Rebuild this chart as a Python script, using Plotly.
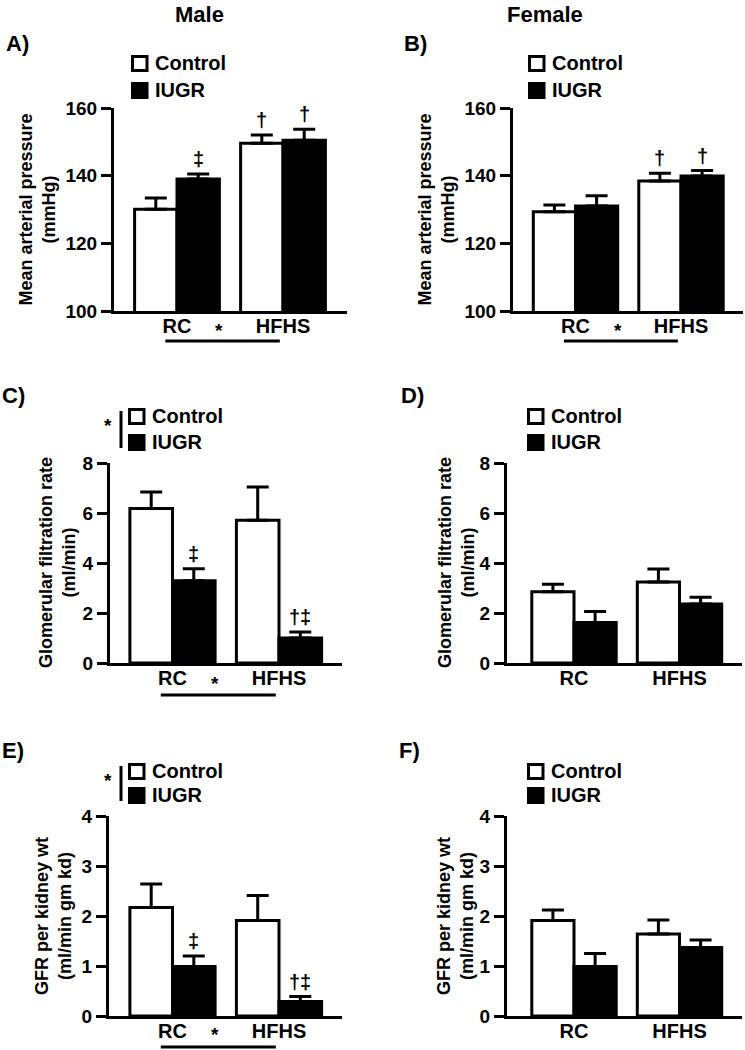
import plotly.graph_objects as go

# ---------------- data ----------------
groups = ["RC", "HFHS"]

# Panel A: Male, mean arterial pressure (mmHg)
a_control = [130.1, 149.6]
a_control_err = [3.3, 2.4]
a_iugr = [139.0, 150.5]
a_iugr_err = [1.5, 3.2]
a_control_marks = ["", "†"]
a_iugr_marks = ["‡", "†"]

# Panel B: Female, mean arterial pressure (mmHg)
b_control = [129.3, 138.4]
b_control_err = [2.0, 2.3]
b_iugr = [131.0, 139.9]
b_iugr_err = [3.1, 1.6]
b_control_marks = ["", "†"]
b_iugr_marks = ["", "†"]

# Panel C: Male, GFR (ml/min)
c_control = [6.18, 5.71]
c_control_err = [0.66, 1.33]
c_iugr = [3.29, 1.00]
c_iugr_err = [0.48, 0.24]
c_control_marks = ["", ""]
c_iugr_marks = ["‡", "†‡"]

# Panel D: Female, GFR (ml/min)
d_control = [2.85, 3.24]
d_control_err = [0.30, 0.52]
d_iugr = [1.62, 2.36]
d_iugr_err = [0.44, 0.27]
d_control_marks = ["", ""]
d_iugr_marks = ["", ""]

# Panel E: Male, GFR per kidney wt
e_control = [2.17, 1.91]
e_control_err = [0.47, 0.50]
e_iugr = [0.99, 0.29]
e_iugr_err = [0.21, 0.10]
e_control_marks = ["", ""]
e_iugr_marks = ["‡", "†‡"]

# Panel F: Female, GFR per kidney wt
f_control = [1.91, 1.64]
f_control_err = [0.21, 0.28]
f_iugr = [0.99, 1.37]
f_iugr_err = [0.26, 0.15]
f_control_marks = ["", ""]
f_iugr_marks = ["", ""]

bp_ticks = [100, 120, 140, 160]
gfr_ticks = [0, 2, 4, 6, 8]
gfrkw_ticks = [0, 1, 2, 3, 4]

# ---------------- layout helpers ----------------
W, H = 745, 1050
FONT = "Arial, 'Liberation Sans', sans-serif"


def px(xp):
    return xp / W


def py(yp):
    return 1 - yp / H


def fnt(size):
    return dict(family=FONT, size=size, color="black", weight="bold")


# pull the category labels a little closer to the axis line, if supported
try:
    go.layout.XAxis(ticklabelstandoff=-5)
    XLABEL_SHIFT = {"ticklabelstandoff": -5}
except Exception:
    XLABEL_SHIFT = {}

panels = [
    dict(letter="A)", ctrl=a_control, ce=a_control_err, iugr=a_iugr, ie=a_iugr_err,
         cm=a_control_marks, im=a_iugr_marks, ticks=bp_ticks,
         title="Mean arterial pressure<br>(mmHg)",
         xpx=(114, 347), ypx=(108, 311), c0=177, sp=106, title_x=37,
         letter_pos=(4, 43), legend=(131, 55, 82), legend_star=False,
         interaction=True, label_y=330, line_y=341),
    dict(letter="B)", ctrl=b_control, ce=b_control_err, iugr=b_iugr, ie=b_iugr_err,
         cm=b_control_marks, im=b_iugr_marks, ticks=bp_ticks,
         title="Mean arterial pressure<br>(mmHg)",
         xpx=(513, 743), ypx=(108, 311), c0=575.5, sp=105.5, title_x=436,
         letter_pos=(402, 43), legend=(528, 55, 82), legend_star=False,
         interaction=True, label_y=330, line_y=341),
    dict(letter="C)", ctrl=c_control, ce=c_control_err, iugr=c_iugr, ie=c_iugr_err,
         cm=c_control_marks, im=c_iugr_marks, ticks=gfr_ticks,
         title="Glomerular filtration rate<br>(ml/min)",
         xpx=(110, 342), ypx=(463, 663), c0=172.5, sp=106.5, title_x=57,
         letter_pos=(0, 395), legend=(128, 408, 434), legend_star=True,
         interaction=True, label_y=683, line_y=695),
    dict(letter="D)", ctrl=d_control, ce=d_control_err, iugr=d_iugr, ie=d_iugr_err,
         cm=d_control_marks, im=d_iugr_marks, ticks=gfr_ticks,
         title="Glomerular filtration rate<br>(ml/min)",
         xpx=(507, 742), ypx=(463, 663), c0=574, sp=105.5, title_x=456,
         letter_pos=(399, 395), legend=(527, 408, 434), legend_star=False,
         interaction=False),
    dict(letter="E)", ctrl=e_control, ce=e_control_err, iugr=e_iugr, ie=e_iugr_err,
         cm=e_control_marks, im=e_iugr_marks, ticks=gfrkw_ticks,
         title="GFR per kidney wt<br>(ml/min gm kd)",
         xpx=(109, 342), ypx=(816, 1016), c0=172.5, sp=106.5, title_x=53,
         letter_pos=(0, 750), legend=(128, 763, 787), legend_star=True,
         interaction=True, label_y=1034, line_y=1047),
    dict(letter="F)", ctrl=f_control, ce=f_control_err, iugr=f_iugr, ie=f_iugr_err,
         cm=f_control_marks, im=f_iugr_marks, ticks=gfrkw_ticks,
         title="GFR per kidney wt<br>(ml/min gm kd)",
         xpx=(507, 742), ypx=(816, 1016), c0=574, sp=105.5, title_x=455,
         letter_pos=(397, 750), legend=(527, 763, 787), legend_star=False,
         interaction=False),
]

fig = go.Figure()
layout = dict(
    width=W, height=H, margin=dict(l=0, r=0, t=0, b=0, pad=0, autoexpand=False),
    paper_bgcolor="white", plot_bgcolor="white",
    showlegend=False, barmode="group", bargap=0.2, bargroupgap=0,
    font=fnt(18),
)
annotations = []
shapes = []

for i, p in enumerate(panels, start=1):
    xa = "x" if i == 1 else f"x{i}"
    ya = "y" if i == 1 else f"y{i}"
    xkey = "xaxis" if i == 1 else f"xaxis{i}"
    ykey = "yaxis" if i == 1 else f"yaxis{i}"

    for name, vals, errs, fill in [("Control", p["ctrl"], p["ce"], "white"),
                                   ("IUGR", p["iugr"], p["ie"], "black")]:
        fig.add_trace(go.Bar(
            x=groups, y=vals, name=name, xaxis=xa, yaxis=ya,
            marker=dict(color=fill, line=dict(color="black", width=3)),
            error_y=dict(type="data", symmetric=False, array=errs,
                         arrayminus=[0] * len(errs), color="black",
                         thickness=3, width=11),
            hoverinfo="skip",
        ))

    x0p, x1p = p["xpx"]
    ytop, ybot = p["ypx"]
    layout[xkey] = dict(
        domain=[px(x0p), px(x1p)], anchor=ya, type="category",
        categoryorder="array", categoryarray=groups,
        range=[(x0p - p["c0"]) / p["sp"], (x1p - p["c0"]) / p["sp"]],
        showline=True, linewidth=3, linecolor="black", ticks="",
        showgrid=False, zeroline=False, fixedrange=True, automargin=False,
        tickfont=fnt(20), **XLABEL_SHIFT,
    )
    layout[ykey] = dict(
        domain=[py(ybot), py(ytop)], anchor=xa,
        range=[p["ticks"][0], p["ticks"][-1]], tickvals=p["ticks"],
        showline=True, linewidth=3, linecolor="black",
        ticks="outside", ticklen=10, tickwidth=3, tickcolor="black",
        showgrid=False, zeroline=False, fixedrange=True, automargin=False,
        tickfont=fnt(19),
    )

    # y-axis title
    annotations.append(dict(
        text=p["title"], xref="paper", yref="paper",
        x=px(p["title_x"]), y=py((ytop + ybot) / 2), textangle=-90,
        xanchor="center", yanchor="middle", showarrow=False,
        font=fnt(18),
    ))
    # panel letter
    lx, ly = p["letter_pos"]
    annotations.append(dict(
        text=p["letter"], xref="paper", yref="paper", x=px(lx), y=py(ly),
        xanchor="left", yanchor="middle", showarrow=False,
        font=fnt(22),
    ))

    # significance marks above error bars
    for gi in range(len(groups)):
        for offset, vals, errs, marks in [(-0.2, p["ctrl"], p["ce"], p["cm"]),
                                          (0.2, p["iugr"], p["ie"], p["im"])]:
            if marks[gi]:
                annotations.append(dict(
                    text=marks[gi], xref=xa, yref=ya, x=gi + offset,
                    y=vals[gi] + errs[gi], yshift=15,
                    xanchor="center", yanchor="middle", showarrow=False,
                    font=fnt(20),
                ))

    # diet main-effect asterisk and underline
    if p["interaction"]:
        annotations.append(dict(
            text="*", xref=xa, yref="paper", x=0.4, y=py(p["label_y"]),
            xanchor="center", yanchor="middle", showarrow=False,
            font=fnt(19),
        ))
        shapes.append(dict(
            type="line", xref=xa, yref="paper", x0=-0.11, x1=0.97,
            y0=py(p["line_y"]), y1=py(p["line_y"]),
            line=dict(color="black", width=3),
        ))

    # custom legend
    sx, cy, iy = p["legend"]
    shapes.append(dict(type="rect", xref="paper", yref="paper",
                       x0=px(sx + 1.5), x1=px(sx + 16), y0=py(cy + 15.5), y1=py(cy + 1.5),
                       line=dict(color="black", width=3), fillcolor="white"))
    shapes.append(dict(type="rect", xref="paper", yref="paper",
                       x0=px(sx + 1.5), x1=px(sx + 16), y0=py(iy + 15.5), y1=py(iy + 1.5),
                       line=dict(color="black", width=3), fillcolor="black"))
    for txt, yy in [("Control", cy + 8), ("IUGR", iy + 8)]:
        annotations.append(dict(
            text=txt, xref="paper", yref="paper", x=px(sx + 22), y=py(yy),
            xanchor="left", yanchor="middle", showarrow=False,
            font=fnt(20),
        ))
    if p["legend_star"]:
        annotations.append(dict(
            text="*", xref="paper", yref="paper", x=px(sx - 20), y=py(cy + 17),
            xanchor="center", yanchor="middle", showarrow=False,
            font=fnt(19),
        ))
        shapes.append(dict(type="line", xref="paper", yref="paper",
                           x0=px(sx - 7), x1=px(sx - 7), y0=py(cy + 3), y1=py(iy + 14),
                           line=dict(color="black", width=3)))

# column headers
for txt, cx in [("Male", 199), ("Female", 545)]:
    annotations.append(dict(
        text=txt, xref="paper", yref="paper", x=px(cx), y=1,
        xanchor="center", yanchor="top", showarrow=False,
        font=fnt(22),
    ))

layout["annotations"] = annotations
layout["shapes"] = shapes
fig.update_layout(**layout)
fig.write_html(
    "out.html",
    include_plotlyjs=True,
    config={"displayModeBar": False},
    post_script="document.body.style.margin='0';document.body.style.overflow='hidden';",
)
